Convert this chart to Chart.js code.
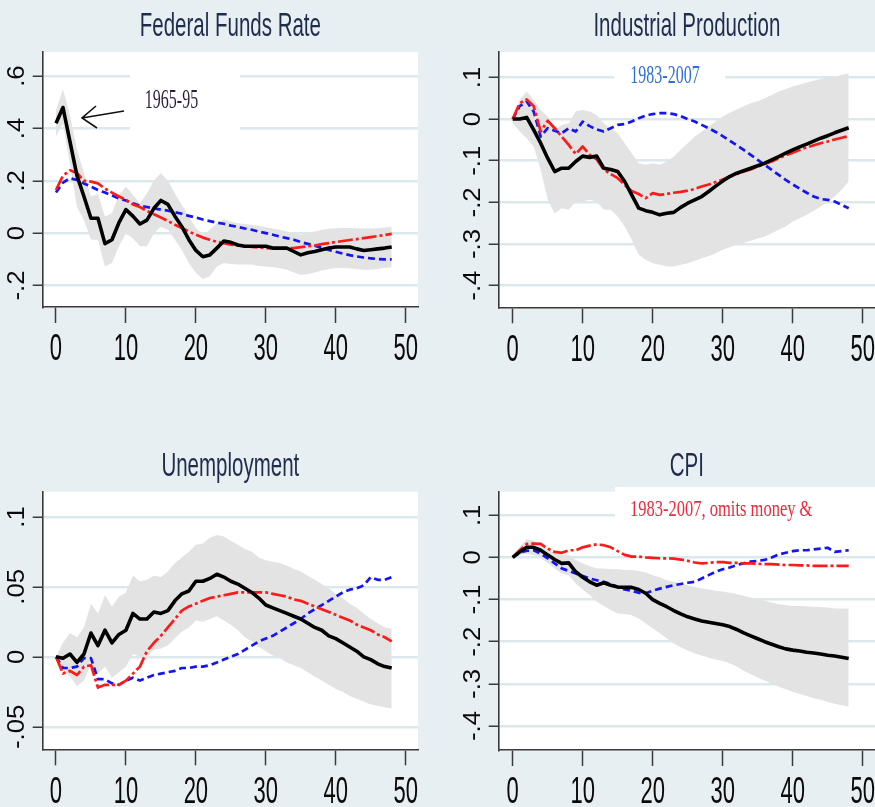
<!DOCTYPE html>
<html>
<head>
<meta charset="utf-8">
<script src="https://cdn.jsdelivr.net/npm/chart.js@4.4.1/dist/chart.umd.min.js"></script>
<style>
html, body { margin: 0; padding: 0; width: 875px; height: 807px; overflow: hidden; background: #e8eff2; }
canvas { position: absolute; }
</style>
</head>
<body>
<canvas id="ffr" width="437" height="370" style="left:0;top:0"></canvas>
<canvas id="ip" width="438" height="370" style="left:437px;top:0"></canvas>
<canvas id="unemp" width="437" height="367" style="left:0;top:440px"></canvas>
<canvas id="cpi" width="438" height="367" style="left:437px;top:440px"></canvas>
<script>
// horizon (months after the shock)
const horizon = [0,1,2,3,4,5,6,7,8,9,10,11,12,13,14,15,16,17,18,19,20,21,22,23,24,25,26,27,28,29,30,31,32,33,34,35,36,37,38,39,40,41,42,43,44,45,46,47,48]
const xTicks = [0, 10, 20, 30, 40, 50]

// Federal Funds Rate
const ffr6595 = [.42,.48,.35,.22,.14,.057,.057,-.04,-.025,.04,
  .09,.065,.035,.05,.095,.125,.11,.065,.025,-.025,
  -.066,-.09,-.083,-.057,-.03,-.035,-.045,-.05,-.05,-.05,
  -.05,-.057,-.057,-.057,-.07,-.083,-.075,-.07,-.063,-.057,
  -.053,-.053,-.053,-.06,-.066,-.063,-.06,-.057,-.053]
const ffrHi = [.47,.55,.45,.32,.23,.14,.15,.064,.076,.146,
  .178,.146,.114,.152,.2,.23,.2,.152,.108,.064,
  .02,-.006,.013,.038,.053,.045,.038,.035,.032,.028,
  .023,.018,.013,.006,0,-.006,0,.006,.013,.017,
  .019,.02,.02,.019,.018,.018,.019,.022,.025]
const ffrLo = [.37,.42,.26,.1,.05,-.025,-.025,-.127,-.114,-.05,
  0,-.02,-.05,-.05,0,.025,.013,-.025,-.064,-.114,
  -.152,-.175,-.165,-.127,-.114,-.118,-.12,-.12,-.12,-.125,
  -.127,-.13,-.133,-.14,-.15,-.16,-.156,-.15,-.143,-.137,
  -.134,-.133,-.134,-.137,-.14,-.14,-.137,-.133,-.13]
const ffr8307 = [.155,.193,.21,.203,.19,.178,.165,.155,.144,.133,
  .125,.114,.105,.1,.095,.09,.086,.08,.074,.066,
  .06,.052,.046,.04,.036,.029,.024,.018,.013,.006,
  0,-.006,-.013,-.019,-.025,-.034,-.041,-.048,-.056,-.064,
  -.071,-.078,-.084,-.089,-.093,-.096,-.099,-.1,-.1]
const ffr8307NoMoney = [.165,.22,.24,.23,.2,.197,.19,.17,.155,.14,
  .127,.11,.1,.085,.072,.06,.047,.032,.02,.006,
  -.006,-.017,-.025,-.033,-.038,-.044,-.047,-.05,-.052,-.055,
  -.057,-.058,-.059,-.058,-.057,-.053,-.05,-.047,-.042,-.038,
  -.034,-.03,-.026,-.023,-.019,-.015,-.011,-.007,-.003]
const ffrTicks = [-.2, 0, .2, .4, .6]
const ffrTickLabels = ['-.2', '0', '.2', '.4', '.6']

// Industrial Production
const ip6595 = [0,0,.004,-.026,-.058,-.094,-.126,-.118,-.118,-.102,
  -.089,-.092,-.089,-.118,-.121,-.126,-.15,-.182,-.214,-.22,
  -.224,-.23,-.226,-.224,-.212,-.202,-.194,-.186,-.174,-.161,
  -.149,-.138,-.13,-.124,-.118,-.112,-.106,-.098,-.09,-.082,
  -.074,-.067,-.06,-.053,-.046,-.04,-.033,-.027,-.021]
const ipHi = [.002,.046,.066,.046,.022,.006,-.026,-.014,-.01,.018,
  .022,.018,.01,-.01,-.022,-.034,-.058,-.082,-.106,-.11,
  -.106,-.11,-.102,-.09,-.074,-.058,-.042,-.03,-.018,-.006,
  .006,.015,.023,.031,.038,.043,.05,.058,.066,.072,
  .078,.083,.088,.092,.096,.099,.102,.106,.11]
const ipLo = [-.01,-.03,-.046,-.066,-.122,-.194,-.226,-.214,-.218,-.198,
  -.198,-.194,-.198,-.218,-.218,-.234,-.258,-.29,-.326,-.338,
  -.346,-.35,-.354,-.354,-.35,-.346,-.34,-.334,-.329,-.322,
  -.314,-.308,-.302,-.297,-.292,-.287,-.282,-.274,-.266,-.258,
  -.246,-.238,-.23,-.22,-.21,-.198,-.186,-.17,-.15]
const ip8307 = [0,.031,.042,.018,-.042,-.022,-.028,-.034,-.022,-.03,
  -.006,-.017,-.025,-.03,-.022,-.014,-.012,-.006,.002,.008,
  .012,.014,.014,.012,.007,0,-.006,-.014,-.022,-.031,
  -.041,-.052,-.063,-.074,-.086,-.098,-.11,-.122,-.134,-.146,
  -.157,-.167,-.177,-.186,-.192,-.194,-.198,-.206,-.214]
const ip8307NoMoney = [0,.038,.047,.031,-.03,-.004,-.022,-.042,-.062,-.084,
  -.066,-.086,-.097,-.121,-.132,-.142,-.158,-.173,-.18,-.19,
  -.178,-.182,-.18,-.177,-.175,-.172,-.168,-.162,-.157,-.151,
  -.145,-.138,-.132,-.126,-.121,-.114,-.108,-.102,-.094,-.087,
  -.081,-.074,-.068,-.063,-.058,-.054,-.049,-.045,-.041]
const ipTicks = [-.4, -.3, -.2, -.1, 0, .1]
const ipTickLabels = ['-.4', '-.3', '-.2', '-.1', '0', '.1']

// Unemployment
const un6595 = [0,-.001,.002,-.004,.002,.017,.008,.019,.01,.016,
  .019,.031,.027,.027,.032,.031,.033,.04,.045,.047,
  .054,.054,.056,.059,.057,.054,.052,.049,.046,.042,
  .037,.035,.033,.031,.029,.027,.024,.021,.019,.015,
  .013,.01,.007,.004,0,-.002,-.005,-.007,-.008]
const unHi = [0,.01,.017,.014,.021,.038,.031,.044,.036,.043,
  .046,.058,.054,.055,.058,.057,.061,.067,.071,.075,
  .08,.081,.085,.087,.086,.083,.08,.077,.075,.071,
  .069,.068,.067,.065,.063,.061,.058,.055,.052,.049,
  .045,.042,.038,.035,.031,.027,.024,.021,.02]
const unLo = [0,-.01,-.014,-.021,-.017,-.005,-.012,-.007,-.015,-.011,
  -.007,.002,0,0,.005,.006,.008,.013,.018,.021,
  .026,.025,.027,.029,.026,.023,.019,.014,.011,.007,
  .004,.001,-.001,-.004,-.006,-.008,-.011,-.014,-.017,-.02,
  -.023,-.025,-.028,-.03,-.032,-.034,-.035,-.036,-.037]
const un8307 = [0,-.008,-.008,-.007,-.001,-.001,-.016,-.016,-.019,-.02,
  -.017,-.015,-.017,-.015,-.013,-.012,-.011,-.01,-.008,-.008,
  -.007,-.007,-.006,-.004,-.002,0,.002,.005,.008,.011,
  .013,.015,.018,.021,.024,.027,.031,.034,.037,.04,
  .043,.046,.048,.049,.051,.057,.055,.055,.057]
const un8307NoMoney = [0,-.012,-.01,-.013,-.007,-.006,-.022,-.02,-.02,-.02,
  -.017,-.012,-.007,.004,.01,.015,.021,.027,.033,.036,
  .038,.04,.042,.043,.044,.045,.046,.046,.046,.046,
  .046,.045,.044,.043,.041,.04,.038,.036,.034,.032,
  .03,.028,.026,.023,.021,.019,.016,.014,.011]
const unTicks = [-.05, 0, .05, .1]
const unTickLabels = ['-.05', '0', '.05', '.1']

// CPI
const cpi6595 = [0,.013,.024,.024,.017,.006,-.005,-.014,-.013,-.034,
  -.047,-.058,-.066,-.06,-.066,-.07,-.071,-.071,-.076,-.085,
  -.1,-.109,-.117,-.126,-.134,-.141,-.146,-.151,-.154,-.157,
  -.16,-.164,-.171,-.179,-.186,-.193,-.2,-.206,-.212,-.217,
  -.22,-.222,-.225,-.227,-.229,-.232,-.234,-.237,-.24]
const cpiHi = [.002,.025,.043,.04,.029,.019,.011,.006,.006,-.006,
  -.014,-.021,-.026,-.026,-.028,-.028,-.03,-.03,-.032,-.036,
  -.042,-.047,-.054,-.058,-.062,-.066,-.07,-.074,-.076,-.079,
  -.081,-.084,-.087,-.091,-.095,-.099,-.103,-.107,-.111,-.113,
  -.115,-.115,-.116,-.117,-.118,-.119,-.121,-.121,-.121]
const cpiLo = [-.005,.006,.009,.006,-.002,-.014,-.026,-.038,-.042,-.062,
  -.076,-.089,-.105,-.115,-.125,-.133,-.134,-.137,-.145,-.157,
  -.168,-.18,-.192,-.204,-.213,-.221,-.228,-.233,-.238,-.242,
  -.246,-.251,-.259,-.269,-.277,-.285,-.292,-.3,-.307,-.313,
  -.319,-.324,-.329,-.334,-.338,-.343,-.347,-.351,-.354]
const cpi8307 = [0,.011,.016,.017,.009,-.002,-.014,-.026,-.032,-.038,
  -.044,-.05,-.054,-.058,-.063,-.07,-.076,-.079,-.084,-.085,
  -.079,-.074,-.07,-.066,-.063,-.06,-.058,-.05,-.042,-.034,
  -.028,-.024,-.018,-.014,-.01,-.008,-.006,0,.007,.011,
  .015,.017,.017,.019,.021,.023,.013,.015,.017]
const cpi8307NoMoney = [0,.017,.032,.033,.032,.021,.013,.011,.017,.017,
  .024,.028,.031,.029,.024,.015,.006,.002,.002,0,
  -.001,-.002,-.002,-.003,-.005,-.008,-.012,-.014,-.013,-.011,
  -.011,-.013,-.013,-.014,-.014,-.015,-.016,-.016,-.017,-.018,
  -.018,-.019,-.019,-.02,-.02,-.02,-.02,-.02,-.02]
const cpiTicks = [-.4, -.3, -.2, -.1, 0, .1]
const cpiTickLabels = ['-.4', '-.3', '-.2', '-.1', '0', '.1']

const axisColor = '#3a3a3a'
const gridColor = '#dde8ec'
const bandColor = '#e3e3e3'

function stretchText(ctx, text, x, y, font, sx, sy, color, align) {
    ctx.save()
    ctx.translate(x, y)
    ctx.scale(sx, sy)
    ctx.font = font
    ctx.fillStyle = color
    ctx.textAlign = align || 'center'
    ctx.textBaseline = 'middle'
    ctx.fillText(text, 0, 0)
    ctx.restore()
}

// stata-like decorations: white plot region, stretched labels, text boxes
function stataLook(p) {
    return {
        id: 'stataLook',
        beforeDraw(chart) {
            const a = chart.chartArea, ctx = chart.ctx
            ctx.save()
            ctx.fillStyle = '#fff'
            ctx.fillRect(a.left, a.top, a.right - a.left, a.bottom - a.top)
            ctx.restore()
        },
        beforeDatasetsDraw(chart) {
            const ctx = chart.ctx
            for (const n of p.notes) {
                ctx.save()
                ctx.fillStyle = '#fff'
                ctx.fillRect(n.box[0], n.box[1], n.box[2], n.box[3])
                ctx.restore()
                stretchText(ctx, n.text, n.x, n.y, n.size + 'px "Liberation Serif", "Times New Roman", serif', 1, n.sy, n.color, n.align)
            }
            if (p.arrow) {
                const [x0, y0, x1, y1, ux, uy, lx, ly] = p.arrow
                ctx.save()
                ctx.strokeStyle = '#111'
                ctx.lineWidth = 1.6
                ctx.beginPath()
                ctx.moveTo(x0, y0); ctx.lineTo(x1, y1)
                ctx.moveTo(ux, uy); ctx.lineTo(x1, y1); ctx.lineTo(lx, ly)
                ctx.stroke()
                ctx.restore()
            }
        },
        afterDraw(chart) {
            const ctx = chart.ctx, a = chart.chartArea
            stretchText(ctx, p.title, (a.left + a.right) / 2, 27, '20.5px "Liberation Sans", Arial, sans-serif', 1, 1.64, '#1f2d4d')
            const xs = chart.scales.x
            for (const t of xs.ticks) {
                stretchText(ctx, String(t.value), xs.getPixelForValue(t.value), a.bottom + 43, '22px "Liberation Sans", Arial, sans-serif', 1, 1.7, '#0a0a0a')
            }
            const ys = chart.scales.y
            p.yTicks.forEach((v, i) => {
                ctx.save()
                ctx.translate(p.yLabelX, ys.getPixelForValue(v))
                ctx.rotate(-Math.PI / 2)
                ctx.scale(1.12, 1)
                ctx.font = '23px "Liberation Sans", Arial, sans-serif'
                ctx.fillStyle = '#0a0a0a'
                ctx.textAlign = 'center'
                ctx.textBaseline = 'middle'
                ctx.fillText(p.yLabels[i], 0, 0)
                ctx.restore()
            })
        }
    }
}

function makeChart(id, p) {
    const ctx = document.getElementById(id)
    const data = {
        labels: horizon,
        datasets: [
            { data: p.hi, fill: '+1', backgroundColor: bandColor, borderWidth: 0, order: 9 },
            { data: p.lo, fill: false, borderWidth: 0, order: 9 },
            { data: p.blue, borderColor: '#1414f5', borderWidth: 2.7, borderDash: [7, 4], fill: false, order: 3 },
            { data: p.red, borderColor: '#ff1a1a', borderWidth: 2.7, borderDash: [15, 3, 3, 3], fill: false, order: 2 },
            { data: p.black, borderColor: '#000', borderWidth: 3.6, fill: false, order: 1 },
        ]
    }
    const config = {
        type: 'line',
        data: data,
        options: {
            responsive: false,
            animation: false,
            layout: { padding: { top: p.top, left: 0, right: p.right, bottom: 0 } },
            elements: {
                point: { radius: 0 },
                line: { tension: 0, borderJoinStyle: 'round' }
            },
            plugins: { legend: { display: false }, tooltip: { enabled: false } },
            scales: {
                x: {
                    type: 'linear',
                    min: p.xMin, max: p.xMax,
                    afterFit: (s) => { s.height = p.xAxisH },
                    afterBuildTicks: (s) => { s.ticks = xTicks.map(v => ({ value: v })) },
                    ticks: { display: false },
                    grid: { drawOnChartArea: false, tickLength: 16, tickColor: axisColor, tickWidth: 1.5 },
                    border: { color: axisColor, width: 1.6 }
                },
                y: {
                    min: p.yMin, max: p.yMax,
                    afterFit: (s) => { s.width = p.yAxisW },
                    afterBuildTicks: (s) => { s.ticks = p.yTicks.map(v => ({ value: v })) },
                    ticks: { display: false },
                    grid: { color: gridColor, lineWidth: 2.5, tickLength: 10, tickColor: axisColor, tickWidth: 1.5 },
                    border: { color: axisColor, width: 1.6 }
                }
            }
        },
        plugins: [stataLook(p)]
    }
    new Chart(ctx, config)
}

makeChart('ffr', {
    title: 'Federal Funds Rate',
    black: ffr6595, hi: ffrHi, lo: ffrLo, blue: ffr8307, red: ffr8307NoMoney,
    yTicks: ffrTicks, yLabels: ffrTickLabels,
    xMin: -1.9, xMax: 51.76, yMin: -0.282, yMax: 0.692,
    top: 52, right: 19, yAxisW: 42.7, xAxisH: 63, yLabelX: 18,
    notes: [{ text: '1965-95', box: [130, 72, 110, 60], x: 171.5, y: 101, size: 16, sy: 1.65, color: '#2a1f3d' }],
    arrow: [124, 111, 82, 118, 96, 106, 97, 128]
})
makeChart('ip', {
    title: 'Industrial Production',
    black: ip6595, hi: ipHi, lo: ipLo, blue: ip8307, red: ip8307NoMoney,
    yTicks: ipTicks, yLabels: ipTickLabels,
    xMin: -2, xMax: 51.76, yMin: -0.452, yMax: 0.161,
    top: 52, right: 0, yAxisW: 61.7, xAxisH: 62.7, yLabelX: 37,
    notes: [{ text: '1983-2007', box: [177, 63, 111, 28], x: 228, y: 76.5, size: 16, sy: 1.55, color: '#2f6fd8' }]
})
makeChart('unemp', {
    title: 'Unemployment',
    black: un6595, hi: unHi, lo: unLo, blue: un8307, red: un8307NoMoney,
    yTicks: unTicks, yLabels: unTickLabels,
    xMin: -1.9, xMax: 51.76, yMin: -0.0661, yMax: 0.118,
    top: 51.7, right: 19, yAxisW: 42.7, xAxisH: 57.7, yLabelX: 18,
    notes: []
})
makeChart('cpi', {
    title: 'CPI',
    black: cpi6595, hi: cpiHi, lo: cpiLo, blue: cpi8307, red: cpi8307NoMoney,
    yTicks: cpiTicks, yLabels: cpiTickLabels,
    xMin: -2, xMax: 51.76, yMin: -0.457, yMax: 0.156,
    top: 51.7, right: 0, yAxisW: 61.7, xAxisH: 57, yLabelX: 37,
    notes: [{ text: '1983-2007, omits money &', box: [178, 47, 260, 43], x: 193, y: 70, size: 16.5, sy: 1.43, color: '#ec2a3c', align: 'left' }]
})
</script>
</body>
</html>
